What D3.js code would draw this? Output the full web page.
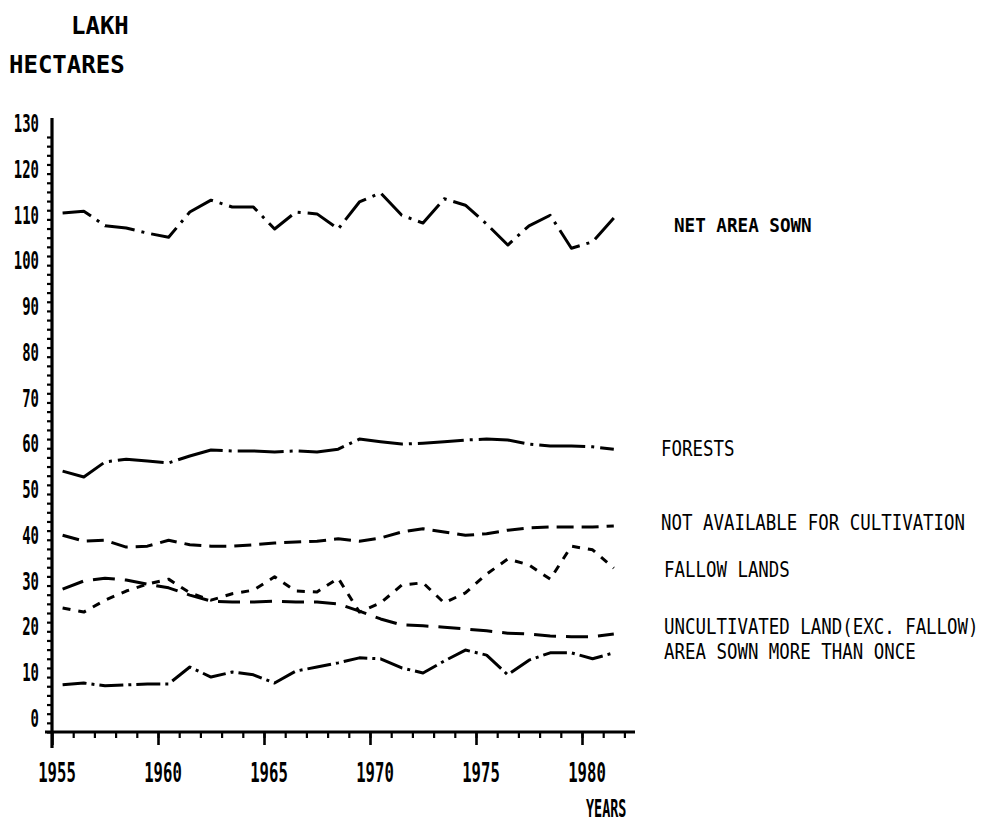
<!DOCTYPE html>
<html><head><meta charset="utf-8">
<script src="https://cdn.jsdelivr.net/npm/d3@7/dist/d3.min.js"></script>
<style>body{margin:0;background:#fff}svg{display:block}</style>
</head><body>
<svg id="c" width="989" height="825"></svg>
<script>
// ---- data (lakh hectares), plotted at mid-year 1955-56 ... 1981-82 ----
const years = d3.range(1955.5, 1982, 1);
const netAreaSown = [113.4,113.8,110.6,110.1,109.0,108.1,113.6,116.2,114.7,114.7,109.9,113.6,113.2,109.9,115.8,117.8,112.9,111.2,116.5,115.1,111.0,106.4,110.6,112.9,105.7,107.1,112.3];
const forests = [57.0,55.7,59.0,59.6,59.2,58.8,60.3,61.6,61.4,61.4,61.2,61.4,61.2,61.8,64.0,63.4,62.9,63.1,63.4,63.8,64.0,63.8,62.9,62.5,62.5,62.3,61.8];
const notAvailable = [43.0,41.7,41.9,40.4,40.6,41.9,40.9,40.6,40.6,40.9,41.3,41.5,41.7,42.2,41.7,42.4,43.7,44.4,43.7,43.0,43.3,44.1,44.6,44.8,44.8,44.8,45.0];
const fallowLands = [27.1,26.2,28.8,30.8,32.3,33.4,30.4,28.8,30.2,31.0,33.9,30.8,30.6,33.6,26.2,28.2,32.1,32.6,28.2,30.4,34.5,37.8,36.5,33.4,40.6,39.8,35.8];
const uncultivated = [31.2,33.0,33.6,33.2,32.3,31.5,29.9,28.6,28.4,28.4,28.6,28.4,28.4,28.0,26.4,24.7,23.4,23.2,22.9,22.5,22.1,21.6,21.4,21.0,20.8,20.8,21.4];
const sownMoreThanOnce = [10.3,10.7,10.1,10.3,10.5,10.5,14.2,12.0,13.1,12.5,10.7,13.3,14.2,15.1,16.2,16.0,14.0,12.9,15.5,17.9,16.8,12.5,15.7,17.3,17.3,16.0,17.3];

const seriesNames = ["NET AREA SOWN","FORESTS","NOT AVAILABLE FOR CULTIVATION","FALLOW LANDS","UNCULTIVATED LAND(EXC. FALLOW)","AREA SOWN MORE THAN ONCE"];
const yTickValues = [0,10,20,30,40,50,60,70,80,90,100,110,120,130];
const xTickValues = [1955,1960,1965,1970,1975,1980];
const yUnitTitle = ["LAKH","HECTARES"];
const xTitle = "YEARS";

// ---- layout / styles ----
const series = [
  {name: seriesNames[0], values: netAreaSown, dash: "30,7,3,7", labelX: 674, labelY: 224, bold: true},
  {name: seriesNames[1], values: forests, dash: "46,6,3,6", labelX: 661, labelY: 448},
  {name: seriesNames[2], values: notAvailable, dash: "17,8", labelX: 661, labelY: 522},
  {name: seriesNames[3], values: fallowLands, dash: "8,8", labelX: 664, labelY: 569},
  {name: seriesNames[4], values: uncultivated, dash: "22,10", labelX: 664, labelY: 626},
  {name: seriesNames[5], values: sownMoreThanOnce, dash: "24,5,3,5", labelX: 664, labelY: 651}
];

const svg = d3.select("#c");
const x = d3.scaleLinear().domain([1955, 1982.5]).range([52, 635]);
const y = d3.scaleLinear().domain([0, 130]).range([732, 137]);
const MONO = "'DejaVu Sans Mono','Liberation Mono',monospace";

// y axis: minor ticks every 2 units
const yAxis = d3.axisLeft(y).tickValues(d3.range(0, 131, 2)).tickSize(5).tickFormat("");
const gy = svg.append("g").attr("transform", "translate(52,0)").call(yAxis);
gy.select(".domain").remove();
gy.selectAll(".tick line").attr("stroke", "#000").attr("stroke-width", 2.2);
svg.append("line").attr("x1", 52).attr("x2", 52).attr("y1", 118).attr("y2", 748)
  .attr("stroke", "#000").attr("stroke-width", 3.2);

// y tick labels
svg.append("g").selectAll("text").data(yTickValues).join("text")
  .attr("transform", d => `translate(39,${y(d) - 5}) scale(0.58,1)`)
  .attr("text-anchor", "end")
  .attr("font-family", MONO).attr("font-weight", "bold").attr("font-size", 24)
  .text(d => d);

// x axis: minor ticks every year, major every 5
const xAxisMinor = d3.axisBottom(x).tickValues(d3.range(1956, 1983, 1)).tickSize(6).tickFormat("");
const gxm = svg.append("g").attr("transform", "translate(0,732)").call(xAxisMinor);
gxm.select(".domain").remove();
gxm.selectAll(".tick line").attr("stroke", "#000").attr("stroke-width", 2.2);
const xAxisMajor = d3.axisBottom(x).tickValues(xTickValues).tickSize(13).tickFormat("");
const gxM = svg.append("g").attr("transform", "translate(0,732)").call(xAxisMajor);
gxM.select(".domain").remove();
gxM.selectAll(".tick line").attr("stroke", "#000").attr("stroke-width", 2.6);
svg.append("line").attr("x1", 45).attr("x2", x(1982.5)).attr("y1", 732).attr("y2", 732)
  .attr("stroke", "#000").attr("stroke-width", 3.2);

// x tick labels
svg.append("g").selectAll("text").data(xTickValues).join("text")
  .attr("transform", d => `translate(${x(d) + 5},782) scale(0.6,1)`)
  .attr("text-anchor", "middle")
  .attr("font-family", MONO).attr("font-weight", "bold").attr("font-size", 26)
  .text(d => d);

// titles
svg.append("text").attr("transform", "translate(71,34)")
  .attr("font-family", MONO).attr("font-weight", "bold").attr("font-size", 24).text(yUnitTitle[0]);
svg.append("text").attr("transform", "translate(9,73)")
  .attr("font-family", MONO).attr("font-weight", "bold").attr("font-size", 24).text(yUnitTitle[1]);
svg.append("text").attr("transform", "translate(586,817) scale(0.56,1)")
  .attr("font-family", MONO).attr("font-weight", "bold").attr("font-size", 24).text(xTitle);

// series lines
const line = d3.line().x((d, i) => x(years[i])).y(d => y(d));
svg.append("g").selectAll("path").data(series).join("path")
  .attr("d", s => line(s.values))
  .attr("fill", "none").attr("stroke", "#000").attr("stroke-width", 3)
  .attr("stroke-linejoin", "round")
  .attr("stroke-dasharray", s => s.dash);

// series labels (monospaced plotter lettering)
svg.append("g").selectAll("text").data(series).join("text")
  .attr("transform", s => `translate(${s.labelX},${s.labelY + 8}) scale(${s.bold ? 0.88 : 0.83},1)`)
  .attr("font-family", MONO).attr("font-weight", s => s.bold ? "bold" : "normal")
  .attr("font-size", s => s.bold ? 20 : 21)
  .text(s => s.name);
</script>
</body></html>
